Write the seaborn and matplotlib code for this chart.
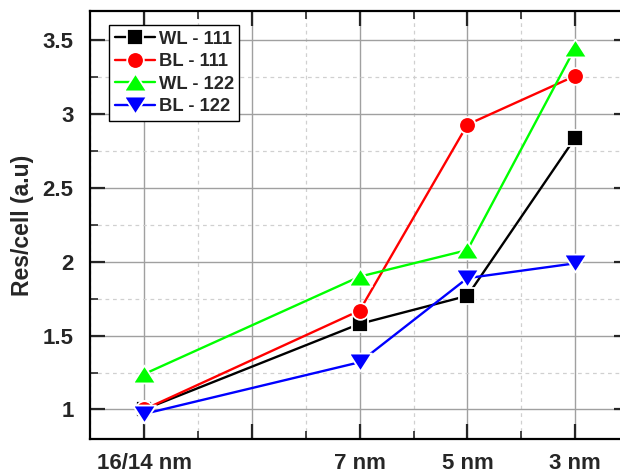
import pandas as pd
import matplotlib
matplotlib.use('Agg')
import matplotlib.pyplot as plt
import seaborn as sns
from matplotlib.ticker import MultipleLocator, FixedLocator

# data
node_labels = ['16/14 nm', '', '7 nm', '5 nm', '3 nm']
node_x = [0, 2, 3, 4]
wl_111 = [1.00, 1.58, 1.77, 2.84]
bl_111 = [1.00, 1.67, 2.93, 3.26]
wl_122 = [1.24, 1.90, 2.08, 3.45]
bl_122 = [0.97, 1.32, 1.89, 1.99]
series_names = ['WL - 111', 'BL - 111', 'WL - 122', 'BL - 122']

sns.set_style('ticks')
plt.rcParams['font.family'] = ['Liberation Sans', 'DejaVu Sans']
plt.rcParams['font.weight'] = 'bold'

fig = plt.figure(figsize=(6.2, 4.73), dpi=100)
ax = fig.add_axes([0.1456, 0.0719, 0.869, 0.905])

# Origin-style triangles are wider than tall
tri_up = [(-1, -0.78), (1, -0.78), (0, 0.78), (-1, -0.78)]
tri_down = [(-1, 0.78), (1, 0.78), (0, -0.78), (-1, 0.78)]

colors = ['#000000', '#ff0000', '#00ff00', '#0000ff']
marker_list = ['s', 'o', tri_up, tri_down]
msizes = [11, 12, 16.5, 16.5]

for name, vals, c, m, ms in zip(series_names, [wl_111, bl_111, wl_122, bl_122],
                                colors, marker_list, msizes):
    d = pd.DataFrame({'x': node_x, 'res': vals})
    sns.lineplot(data=d, x='x', y='res', color=c, marker=m, markersize=ms,
                 linewidth=1.7, markeredgecolor='white', markeredgewidth=1.3,
                 sort=False, label=name, ax=ax, zorder=3)

ax.set_xlim(-0.5, 4.5)
ax.set_ylim(0.8, 3.7)
ax.xaxis.set_major_locator(FixedLocator(range(5)))
ax.set_xticklabels(node_labels)
ax.xaxis.set_minor_locator(MultipleLocator(0.5))
ax.yaxis.set_major_locator(MultipleLocator(0.5))
ax.yaxis.set_minor_locator(MultipleLocator(0.25))
ax.yaxis.set_major_formatter(plt.FuncFormatter(lambda v, p: f'{v:g}'))

ax.grid(which='major', color='#a0a0a0', linewidth=1.0, linestyle='-')
ax.grid(which='minor', color='#d0d0d0', linewidth=0.9, linestyle=(0, (3, 3)))
ax.set_axisbelow(True)

for s in ax.spines.values():
    s.set_linewidth(1.6)
    s.set_color('black')
ax.tick_params(which='major', direction='in', length=11, width=1.6,
               top=True, right=True, labelsize=16)
ax.tick_params(axis='x', which='major', pad=10)
ax.tick_params(axis='y', which='major', pad=12)
ax.tick_params(which='minor', direction='in', length=6, width=1.2,
               top=True, right=True)
for lab in ax.get_xticklabels() + ax.get_yticklabels():
    lab.set_fontweight('bold')

ax.set_xlabel('')
ax.set_ylabel('Res/cell (a.u)', fontsize=16.5, fontweight='bold', labelpad=6)

handles, labels = ax.get_legend_handles_labels()
leg = ax.legend(handles, labels, loc='upper left', bbox_to_anchor=(0.035, 0.967),
                frameon=True, fancybox=False, framealpha=1, edgecolor='black',
                prop={'weight': 'bold', 'size': 13.2}, handlelength=2.2,
                handletextpad=0.2, labelspacing=0.3, borderpad=0.3,
                borderaxespad=0)
leg.get_frame().set_linewidth(1.0)

fig.savefig('out.png', dpi=100)
